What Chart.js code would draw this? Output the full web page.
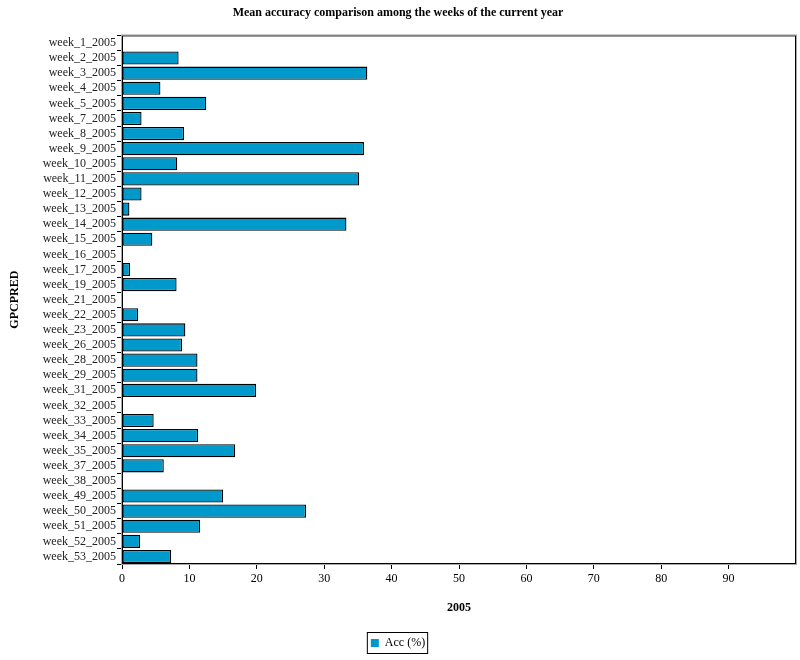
<!DOCTYPE html>
<html>
<head>
<meta charset="utf-8">
<script src="https://cdn.jsdelivr.net/npm/chart.js@4.4.1/dist/chart.umd.min.js"></script>
<style>
  body { margin: 0; background: #fff; }
  #wrap { width: 800px; height: 660px; }
</style>
</head>
<body>
<div id="wrap"><canvas id="accChart"></canvas></div>
<script>
const weeks = [
  "week_1_2005", "week_2_2005", "week_3_2005", "week_4_2005", "week_5_2005",
  "week_7_2005", "week_8_2005", "week_9_2005", "week_10_2005", "week_11_2005",
  "week_12_2005", "week_13_2005", "week_14_2005", "week_15_2005", "week_16_2005",
  "week_17_2005", "week_19_2005", "week_21_2005", "week_22_2005", "week_23_2005",
  "week_26_2005", "week_28_2005", "week_29_2005", "week_31_2005", "week_32_2005",
  "week_33_2005", "week_34_2005", "week_35_2005", "week_37_2005", "week_38_2005",
  "week_49_2005", "week_50_2005", "week_51_2005", "week_52_2005", "week_53_2005"
];
const accValues = [
  0, 8.4, 36.4, 5.7, 12.5,
  2.9, 9.2, 35.9, 8.2, 35.2,
  2.9, 1.1, 33.3, 4.5, 0,
  1.2, 8.1, 0, 2.4, 9.4,
  8.9, 11.2, 11.2, 19.9, 0,
  4.7, 11.3, 16.8, 6.2, 0,
  15.0, 27.3, 11.6, 2.7, 7.3
];
const xTicks = [0, 10, 20, 30, 40, 50, 60, 70, 80, 90];

const serif = "'Liberation Serif', 'DejaVu Serif', serif";

// frame round the plot area and box round the legend
const framePlugin = {
  id: "frame",
  afterDraw(chart) {
    const { ctx, chartArea: a, legend } = chart;
    ctx.save();
    ctx.strokeStyle = "#000";
    ctx.lineWidth = 1;
    ctx.strokeRect(a.left + 0.5, a.top + 0.5, a.right - a.left - 1, a.bottom - a.top - 1);
    ctx.strokeStyle = "#aaa";
    ctx.strokeRect(a.left - 0.5, a.top - 0.5, a.right - a.left + 1, a.bottom - a.top + 1);
    if (legend && legend.legendHitBoxes.length) {
      const hb = legend.legendHitBoxes[0];
      ctx.strokeStyle = "#000";
      ctx.strokeRect(hb.left - 3.5, hb.top - 4.5, hb.width + 6, hb.height + 9);
    }
    ctx.restore();
  }
};

new Chart(document.getElementById("accChart"), {
  type: "bar",
  data: {
    labels: weeks,
    datasets: [
      {
        label: "Acc (%)",
        data: accValues,
        backgroundColor: "#0099cc",
        borderColor: "#000",
        borderWidth: 1.3,
        borderSkipped: false,
        barPercentage: 0.87,
        categoryPercentage: 1
      }
    ]
  },
  options: {
    indexAxis: "y",
    responsive: true,
    maintainAspectRatio: false,
    animation: false,
    layout: { padding: { left: 0, right: 4, top: 0, bottom: 1 } },
    plugins: {
      title: {
        display: true,
        text: "Mean accuracy comparison among the weeks of the current year",
        color: "#000",
        font: { family: serif, size: 12, weight: "bold" },
        padding: { top: 6, bottom: 15 }
      },
      legend: {
        position: "bottom",
        labels: {
          color: "#000",
          font: { family: serif, size: 12 },
          boxWidth: 8,
          boxHeight: 8,
          padding: 10,
          generateLabels(chart) {
            return Chart.defaults.plugins.legend.labels.generateLabels(chart).map((item) => {
              item.lineWidth = 0;
              item.strokeStyle = "rgba(0,0,0,0)";
              return item;
            });
          }
        }
      },
      tooltip: { enabled: false }
    },
    scales: {
      x: {
        min: 0,
        max: 100,
        afterBuildTicks(scale) {
          scale.ticks = xTicks.map((v) => ({ value: v }));
        },
        afterFit(scale) {
          scale.height = 63;
        },
        grid: { drawOnChartArea: false, drawTicks: true, tickLength: 5, color: "#000" },
        border: { display: false },
        ticks: { color: "#000", font: { family: serif, size: 12 }, padding: 3 },
        title: {
          display: true,
          text: "2005",
          color: "#000",
          font: { family: serif, size: 12, weight: "bold" },
          padding: { top: 17, bottom: 12 }
        }
      },
      y: {
        afterFit(scale) {
          scale.width = 122;
        },
        grid: { drawOnChartArea: false, drawTicks: true, tickLength: 5, color: "#000" },
        border: { display: false },
        ticks: { color: "#222", font: { family: serif, size: 12 }, padding: 1, autoSkip: false },
        title: {
          display: true,
          text: "GPCPRED",
          color: "#000",
          font: { family: serif, size: 12, weight: "bold" },
          padding: { top: 8, bottom: 0 }
        }
      }
    }
  },
  plugins: [framePlugin]
});
</script>
</body>
</html>
